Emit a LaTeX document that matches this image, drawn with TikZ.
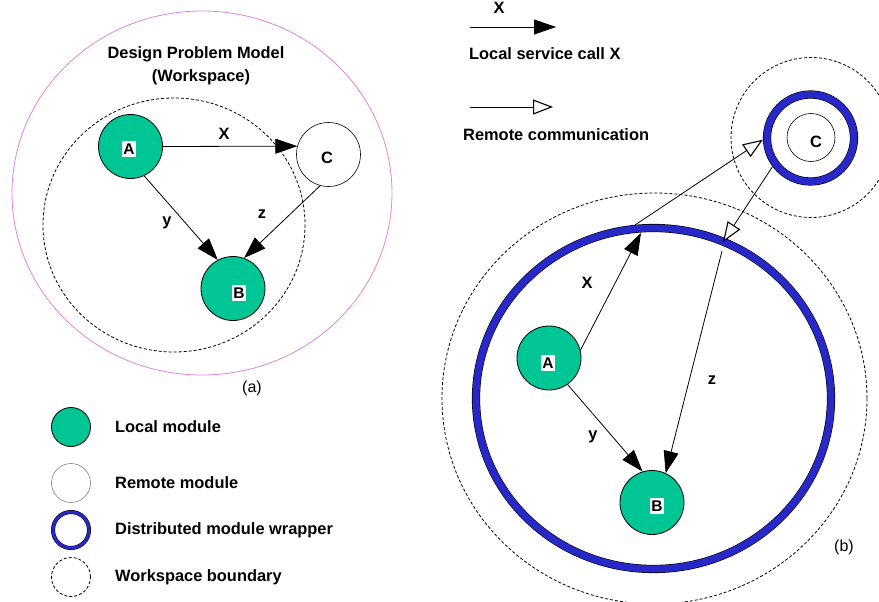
\documentclass[tikz,border=0pt]{standalone}
\usepackage{fontspec}
\setmainfont{Liberation Sans}
\usetikzlibrary{arrows.meta}

\definecolor{modgreen}{RGB}{0,198,150}
\definecolor{wrapblue}{RGB}{40,40,200}
\definecolor{wspink}{RGB}{225,130,225}

\tikzset{
  lbl/.style={font=\fontsize{16.4}{19}\selectfont\bfseries, inner sep=1pt},
  plain/.style={font=\fontsize{16}{19}\selectfont, inner sep=1pt},
  localmod/.style={circle, draw=black, line width=0.8pt, fill=modgreen,
    minimum size=64pt, inner sep=0pt},
  remotemod/.style={circle, draw=black, line width=0.6pt, fill=white,
    minimum size=64pt, inner sep=0pt},
  letterbox/.style={fill=white, inner xsep=1.5pt, inner ysep=3pt,
    font=\fontsize{15.5}{18}\selectfont\bfseries},
  wrapper/.style={draw=black, line width=0.6pt, double=wrapblue, double distance=7pt},
  boundary/.style={draw=black, line width=0.8pt, dash pattern=on 3pt off 2pt},
  call/.style={-{Triangle[length=22pt,width=15pt]}, line width=0.8pt},
  remote/.style={-{Triangle[open,length=20pt,width=15pt,fill=white,line width=1.1pt]}, line width=0.8pt},
}

\begin{document}
\begin{tikzpicture}[x=1pt,y=-1pt]
\useasboundingbox (0,0) rectangle (879,602);
\clip (0,0) rectangle (879,602);

% ---------- (a) design problem model ----------
\draw[wspink, line width=0.8pt] (202,193) ellipse [x radius=190, y radius=182];
\node[lbl] (title1) at (196,54) {Design Problem Model};
\node[lbl] (title2) at (201,77) {(Workspace)};
\draw[boundary] (174,225) ellipse [x radius=131, y radius=127];

\node[localmod]  (Aa) at (130.5,146.5) {};
\node[remotemod] (Ca) at (328.5,154.5) {};
\node[localmod]  (Ba) at (233,288.5) {};
\node[letterbox] (Aal) at (129,149) {A};
\node[lbl]       (Cal) at (327,158) {C};
\node[letterbox] (Bal) at (239,293) {B};

\draw[call] (Aa.east) -- (Ca.165);
\draw[call] (Aa.295) -- (Ba.118);
\draw[call] (Ca.255) -- (Ba.70);
\node[lbl] (xa) at (224,134) {X};
\node[lbl] (ya) at (167,223) {y};
\node[lbl] (za) at (262,214) {z};
\node[plain] (capa) at (252,388) {(a)};

% ---------- legend of modules ----------
\node[localmod, minimum size=39pt] (lg1) at (71,427) {};
\node[circle, draw=gray, line width=0.6pt, minimum size=39pt] (lg2) at (71,483) {};
\node[circle, draw=black, line width=0.5pt, double=wrapblue, double distance=3pt,
      minimum size=36pt] (lg3) at (71,530) {};
\node[circle, boundary, minimum size=39pt] (lg4) at (71,577) {};
\node[lbl, anchor=west] (lt1) at (114,427) {Local module};
\node[lbl, anchor=west] (lt2) at (114,483) {Remote module};
\node[lbl, anchor=west] (lt3) at (114,530) {Distributed module wrapper};
\node[lbl, anchor=west] (lt4) at (114,577) {Workspace boundary};

% ---------- legend of connectors ----------
\coordinate (l1s) at (470,27);
\coordinate (l1e) at (556,27);
\coordinate (l2s) at (470,107);
\coordinate (l2e) at (553,107);
\draw[call] (l1s) -- (l1e);
\node[lbl] (lx) at (499,8) {X};
\node[lbl, anchor=west] (lc1) at (468,54) {Local service call X};
\draw[remote] (l2s) -- (l2e);
\node[lbl, anchor=west] (lc2) at (462,135) {Remote communication};

% ---------- (b) distributed model ----------
\draw[boundary] (654.5,398.5) ellipse [x radius=212.5, y radius=205.5];
\draw[wrapper] (653.5,398.5) ellipse [x radius=177.5, y radius=170.5];
\draw[boundary] (811,137.5) circle [radius=80];
\node[circle, wrapper, minimum size=87pt, inner sep=0pt, outer sep=4.1pt] (Cw) at (810.5,138) {};
\node[remotemod, minimum size=48pt] (Cb) at (811,137.5) {};
\node[lbl] (Cbl) at (816,142) {C};

\node[localmod] (Ab) at (549,358) {};
\node[localmod] (Bb) at (652,502.5) {};
\node[letterbox] (Abl) at (548,363) {A};
\node[letterbox] (Bbl) at (657,506) {B};

\coordinate (xin)  at (641,233);
\coordinate (rout) at (635,225);
\coordinate (rin)  at (723,242);
\coordinate (zin)  at (722,251);

\draw[call] (Ab.14) -- (xin);
\draw[remote] (rout) -- (Cw.182);
\draw[remote] (Cw.217) -- (rin);
\draw[call] (zin) -- (Bb.65);
\draw[call] (Ab.305) -- (Bb.107);

\node[lbl] (xb) at (587,283) {X};
\node[lbl] (yb) at (593,437) {y};
\node[lbl] (zb) at (712,380) {z};
\node[plain] (capb) at (844,547) {(b)};
\end{tikzpicture}
\end{document}
